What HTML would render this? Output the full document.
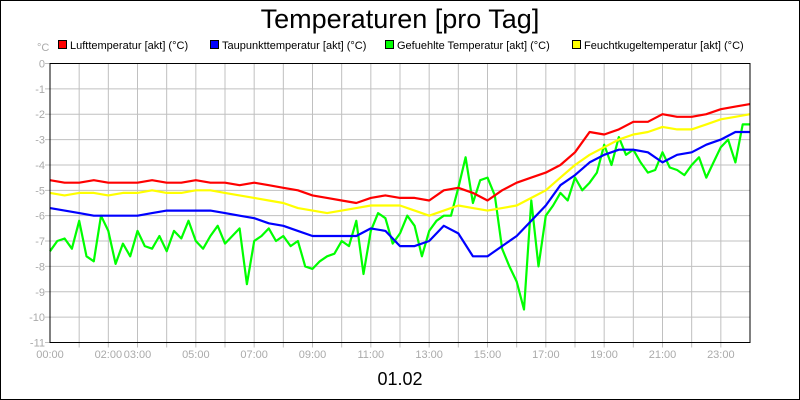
<!DOCTYPE html>
<html><head><meta charset="utf-8"><style>
body{margin:0;background:#fff}
svg{display:block;font-family:"Liberation Sans",sans-serif}
</style></head><body>
<svg id="chart" width="800" height="400" viewBox="0 0 800 400">
<rect x="0.5" y="0.5" width="799" height="399" fill="#fff" stroke="#000"/>
<text x="400" y="28" font-size="27" text-anchor="middle">Temperaturen [pro Tag]</text>
<text x="37" y="51" font-size="11" fill="#aaa">°C</text>
<g id="grid"></g>
<g id="series"></g>
<rect x="50" y="63.5" width="700" height="279" fill="none" stroke="#000"/>
<g id="legend"></g>
<text x="400" y="385" font-size="18" text-anchor="middle">01.02</text>
</svg>
<script>
const seriesNames=["Lufttemperatur [akt] (°C)","Taupunkttemperatur [akt] (°C)","Gefuehlte Temperatur [akt] (°C)","Feuchtkugeltemperatur [akt] (°C)"];
const seriesColors=["#ff0000","#0000ff","#00ff00","#ffff00"];
const yTicks=[0,-1,-2,-3,-4,-5,-6,-7,-8,-9,-10,-11];
const xTickLabels=[["00:00",0],["02:00",2],["03:00",3],["05:00",5],["07:00",7],["09:00",9],["11:00",11],["13:00",13],["15:00",15],["17:00",17],["19:00",19],["21:00",21],["23:00",23]];
const luft=[-4.6,-4.7,-4.7,-4.6,-4.7,-4.7,-4.7,-4.6,-4.7,-4.7,-4.6,-4.7,-4.7,-4.8,-4.7,-4.8,-4.9,-5.0,-5.2,-5.3,-5.4,-5.5,-5.3,-5.2,-5.3,-5.3,-5.4,-5.0,-4.9,-5.1,-5.4,-5.0,-4.7,-4.5,-4.3,-4.0,-3.5,-2.7,-2.8,-2.6,-2.3,-2.3,-2.0,-2.1,-2.1,-2.0,-1.8,-1.7,-1.6];
const yellow=[-5.1,-5.2,-5.1,-5.1,-5.2,-5.1,-5.1,-5.0,-5.1,-5.1,-5.0,-5.0,-5.1,-5.2,-5.3,-5.4,-5.5,-5.7,-5.8,-5.9,-5.8,-5.7,-5.6,-5.6,-5.6,-5.8,-6.0,-5.8,-5.6,-5.7,-5.8,-5.7,-5.6,-5.3,-5.0,-4.5,-4.0,-3.6,-3.3,-3.0,-2.8,-2.7,-2.5,-2.6,-2.6,-2.4,-2.2,-2.1,-2.0];
const taupunkt=[-5.7,-5.8,-5.9,-6.0,-6.0,-6.0,-6.0,-5.9,-5.8,-5.8,-5.8,-5.8,-5.9,-6.0,-6.1,-6.3,-6.4,-6.6,-6.8,-6.8,-6.8,-6.8,-6.5,-6.6,-7.2,-7.2,-7.0,-6.4,-6.7,-7.6,-7.6,-7.2,-6.8,-6.2,-5.6,-4.8,-4.4,-3.9,-3.6,-3.4,-3.4,-3.5,-3.9,-3.6,-3.5,-3.2,-3.0,-2.7,-2.7];
const gefuehlt=[-7.4,-7.0,-6.9,-7.3,-6.2,-7.6,-7.8,-6.0,-6.6,-7.9,-7.1,-7.6,-6.6,-7.2,-7.3,-6.8,-7.4,-6.6,-6.9,-6.2,-7.0,-7.3,-6.8,-6.4,-7.1,-6.8,-6.5,-8.7,-7.0,-6.8,-6.5,-7.0,-6.8,-7.2,-7.0,-8.0,-8.1,-7.8,-7.6,-7.5,-7.0,-7.2,-6.2,-8.3,-6.6,-5.9,-6.1,-7.1,-6.7,-6.0,-6.4,-7.6,-6.6,-6.2,-6.0,-6.0,-4.9,-3.7,-5.5,-4.6,-4.5,-5.2,-7.3,-8.0,-8.6,-9.7,-5.4,-8.0,-6.0,-5.6,-5.1,-5.4,-4.5,-5.0,-4.7,-4.3,-3.2,-4.0,-2.9,-3.6,-3.4,-3.9,-4.3,-4.2,-3.5,-4.1,-4.2,-4.4,-4.0,-3.7,-4.5,-3.9,-3.3,-3.0,-3.9,-2.4,-2.4];
const X0=50,X1=750,Y0=63.5,Y1=342.5;
const xs=h=>X0+(X1-X0)*h/24;
const ys=v=>Y0+(Y1-Y0)*(0-v)/11;
const NS="http://www.w3.org/2000/svg";
function mk(tag,attrs,parent){const e=document.createElementNS(NS,tag);for(const k in attrs)e.setAttribute(k,attrs[k]);parent.appendChild(e);return e;}
const grid=document.getElementById('grid');
for(let h=1;h<24;h++){
  const l=mk('line',{x1:xs(h),x2:xs(h),y1:Y0,y2:Y1+5,stroke:'#c0c0c0'},grid);
  
  
}
yTicks.forEach(v=>{
  const l=mk('line',{x1:X0-5,x2:X1,y1:ys(v),y2:ys(v),stroke:'#c0c0c0'},grid);
  
  
  const t=mk('text',{x:X0-5,y:ys(v)+4,'font-size':11,fill:'#aaa','text-anchor':'end'},grid);
  t.textContent=v;
  
  
});
xTickLabels.forEach(([s,h])=>{
  const t=mk('text',{x:xs(h),y:358,'font-size':11,fill:'#aaa','text-anchor':'middle'},grid);
  t.textContent=s;
  
  
});
const sg=document.getElementById('series');
const all=[[luft,0],[yellow,3],[taupunkt,1],[gefuehlt,2]];
const order=[[gefuehlt,2],[yellow,3],[luft,0],[taupunkt,1]];
order.forEach(([arr,i])=>{
  const n=arr.length;
  const pts=arr.map((v,k)=>xs(24*k/(n-1)).toFixed(1)+','+ys(v).toFixed(1)).join(' ');
  const p=mk('polyline',{points:pts,fill:'none',stroke:seriesColors[i],'stroke-width':2.2,'stroke-linejoin':'round'},sg);
  
  
});
const lg=document.getElementById('legend');
const lx=[58,210,385,572];
seriesNames.forEach((s,i)=>{
  const r=mk('rect',{x:lx[i]+0.5,y:40.5,width:8,height:8,fill:seriesColors[i],stroke:'#000'},lg);
  
  
  const t=mk('text',{x:lx[i]+12,y:49,'font-size':11},lg);
  t.textContent=s;
  
  
});
</script>
</body></html>
